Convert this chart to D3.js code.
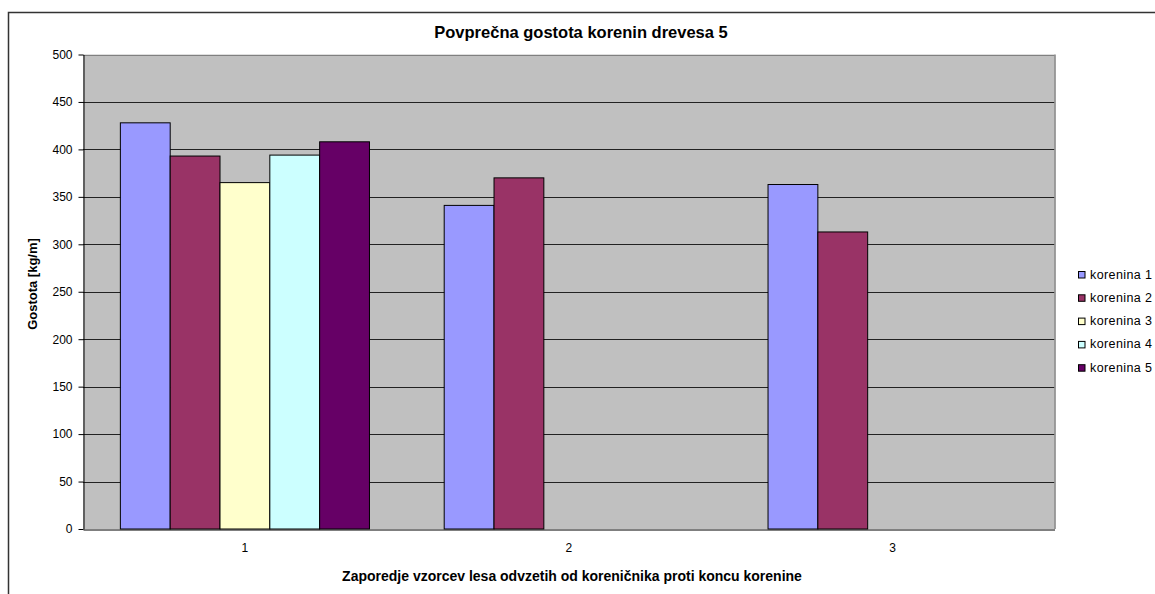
<!DOCTYPE html>
<html>
<head>
<meta charset="utf-8">
<script src="https://cdn.jsdelivr.net/npm/d3@7"></script>
<style>
  html, body { margin: 0; padding: 0; background: #fff; }
  svg { display: block; font-family: Arial, "Liberation Sans", sans-serif; }
</style>
</head>
<body>
<svg id="chart" width="1155" height="594"></svg>
<script>
// Sample positions along the root and the mean density of each root
const categories = ["1", "2", "3"];
const seriesNames = ["korenina 1", "korenina 2", "korenina 3", "korenina 4", "korenina 5"];
const korenina1 = [428, 341, 363];
const korenina2 = [393, 370, 313];
const korenina3 = [365, null, null];
const korenina4 = [394, null, null];
const korenina5 = [408, null, null];
const yTicks = [0, 50, 100, 150, 200, 250, 300, 350, 400, 450, 500];
const colors = ["#9999FF", "#993366", "#FFFFCC", "#CCFFFF", "#660066"];

const seriesValues = [korenina1, korenina2, korenina3, korenina4, korenina5];

const svg = d3.select("#chart");
const plot = { left: 83, top: 54.5, right: 1054.5, bottom: 529 };

// Outer chart frame (right and bottom edges fall outside the page)
svg.append("path")
  .attr("d", `M8.5,600 L8.5,12.5 L1160,12.5`)
  .attr("fill", "none")
  .attr("stroke", "#333")
  .attr("stroke-width", 1.5);

const x0 = d3.scaleBand().domain(categories)
  .range([plot.left, plot.right]).paddingInner(0).paddingOuter(0);
const groupPad = 0.75; // gap between groups is 1.5 bar widths
const x1 = d3.scaleBand().domain(seriesNames)
  .range([0, x0.bandwidth()])
  .paddingInner(0)
  .paddingOuter(groupPad);
const y = d3.scaleLinear().domain([0, 500]).range([plot.bottom, plot.top]);

// Plot background
svg.append("rect")
  .attr("x", plot.left).attr("y", plot.top)
  .attr("width", plot.right - plot.left).attr("height", plot.bottom - plot.top)
  .attr("fill", "#C0C0C0");

// Horizontal gridlines
svg.append("g")
  .selectAll("line")
  .data(yTicks.filter(t => t > 0))
  .join("line")
  .attr("x1", plot.left).attr("x2", plot.right)
  .attr("y1", d => Math.round(y(d)) + 0.5).attr("y2", d => Math.round(y(d)) + 0.5)
  .attr("stroke", d => d === 500 ? "#808080" : "#222")
  .attr("stroke-width", 1);

// Right edge of plot area
svg.append("line")
  .attr("x1", plot.right + 0.5).attr("x2", plot.right + 0.5)
  .attr("y1", plot.top).attr("y2", plot.bottom)
  .attr("stroke", "#808080").attr("stroke-width", 1.5);

// Bars
const bars = [];
categories.forEach((c, ci) => {
  seriesNames.forEach((s, si) => {
    const v = seriesValues[si][ci];
    if (v != null) bars.push({ c, s, si, v });
  });
});
svg.append("g")
  .selectAll("rect")
  .data(bars)
  .join("rect")
  .attr("x", d => x0(d.c) + x1(d.s))
  .attr("y", d => y(d.v))
  .attr("width", x1.bandwidth())
  .attr("height", d => y(0) - y(d.v))
  .attr("fill", d => colors[d.si])
  .attr("stroke", "#000")
  .attr("stroke-width", 1);

// Y axis
const yAxis = svg.append("g")
  .attr("transform", `translate(${plot.left + 0.5},0)`)
  .call(d3.axisLeft(y).tickValues(yTicks).tickSize(5).tickPadding(6).tickSizeOuter(0));
yAxis.select(".domain").attr("stroke", "#000");
yAxis.selectAll(".tick line").attr("stroke", "#000");
yAxis.selectAll(".tick text").attr("font-size", 12).attr("fill", "#000")
  .attr("font-family", "Arial, 'Liberation Sans', sans-serif");

// X axis
const xAxis = svg.append("g")
  .attr("transform", `translate(0,${plot.bottom + 0.5})`)
  .call(d3.axisBottom(x0).tickSize(0).tickPadding(14).tickSizeOuter(0));
xAxis.select(".domain").attr("stroke", "#000");
xAxis.selectAll(".tick text").attr("font-size", 12).attr("fill", "#000")
  .attr("font-family", "Arial, 'Liberation Sans', sans-serif");

// Title
svg.append("text")
  .attr("x", 581).attr("y", 38)
  .attr("text-anchor", "middle")
  .attr("font-size", 16.5).attr("font-weight", "bold")
  .text("Povprečna gostota korenin drevesa 5");

// Axis titles
svg.append("text")
  .attr("transform", `translate(37,284) rotate(-90)`)
  .attr("text-anchor", "middle")
  .attr("font-size", 13).attr("font-weight", "bold")
  .text("Gostota [kg/m]");

svg.append("text")
  .attr("x", 572).attr("y", 581)
  .attr("text-anchor", "middle")
  .attr("font-size", 14).attr("font-weight", "bold")
  .text("Zaporedje vzorcev lesa odvzetih od koreničnika proti koncu korenine");

// Legend
const legend = svg.append("g").attr("transform", "translate(1078,271)");
const rows = legend.selectAll("g")
  .data(seriesNames)
  .join("g")
  .attr("transform", (d, i) => `translate(0,${i * 23.3})`);
rows.append("rect")
  .attr("x", 0.5).attr("y", 0.5).attr("width", 6.5).attr("height", 6.5)
  .attr("fill", (d, i) => colors[i])
  .attr("stroke", "#000").attr("stroke-width", 1);
rows.append("text")
  .attr("x", 12).attr("y", 7.5)
  .attr("font-size", 12.5)
  .attr("letter-spacing", 0.4)
  .text(d => d);
</script>
</body>
</html>
